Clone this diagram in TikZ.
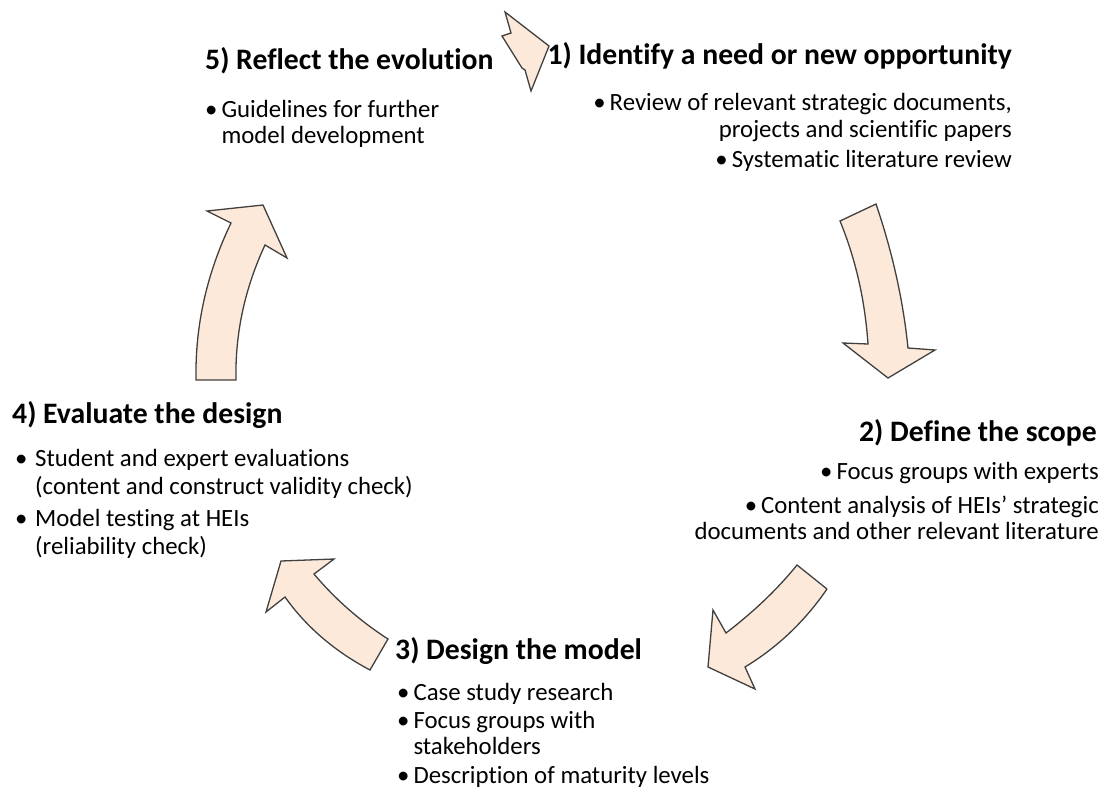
\documentclass[tikz,border=0pt]{standalone}
\usepackage{fontspec}
\setmainfont{Carlito}[Ligatures=CommonOff]
\definecolor{peach}{HTML}{FDE9D9}
\definecolor{edgegray}{HTML}{404040}
\newcommand{\dotlead}{\textbullet\hspace{4pt}}
\newcommand{\hangdot}{\makebox[20pt][l]{\textbullet}}
\newcommand{\hangskip}{\hspace*{20pt}}

\begin{document}
\begin{tikzpicture}[x=1pt,y=-1pt,
    stage/.style={font=\fontsize{29.7}{36}\selectfont\bfseries, inner sep=0pt},
    items/.style={font=\fontsize{24.8}{27}\selectfont, inner sep=0pt},
    bigarrow/.style={fill=peach, draw=edgegray, line width=1.3pt, line join=miter}]
\useasboundingbox (0,0) rectangle (1104,796);

    % stage titles
    \node[stage, anchor=mid east] (T1) at (1012,62) {1) Identify a need or new opportunity};
    \node[stage, anchor=mid east] (T2) at (1097,439) {2) Define the scope};
    \node[stage, anchor=mid west] (T3) at (395,657) {3) Design the model};
    \node[stage, anchor=mid west] (T4) at (12,421) {4) Evaluate the design};
    \node[stage, anchor=mid west] (T5) at (205,67) {5) Reflect the evolution};

    % bullet lists
    \node[items, align=right, anchor=north east] (L1) at (1012,93)
        {\dotlead Review of relevant strategic documents,\\
         projects and scientific papers\\[3pt]
         \dotlead Systematic literature review};
    \node[items, align=right, anchor=north east] (L2) at (1099,462)
        {\dotlead Focus groups with experts\\[7pt]
         \dotlead Content analysis of HEIs’ strategic\\[-1pt]
         documents and other relevant literature};
    \node[items, align=left, anchor=north west] (L3) at (397,683)
        {\dotlead Case study research\\[1pt]
         \dotlead Focus groups with\\[-1pt]
         \phantom{\dotlead}stakeholders\\[2pt]
         \dotlead Description of maturity levels};
    \node[items, align=left, anchor=north west] (L4) at (15,449)
        {\hangdot Student and expert evaluations\\[1pt]
         \hangskip(content and construct validity check)\\[5pt]
         \hangdot Model testing at HEIs\\[1pt]
         \hangskip(reliability check)};
    \node[items, align=left, anchor=north west] (L5) at (205,100)
        {\dotlead Guidelines for further\\[-1pt]
         \phantom{\dotlead}model development};

    % cycle arrows
    \draw[bigarrow] (505,12) -- (549,46) -- (531,91) -- (525,70) -- (522,68)
        -- (502,36) -- (511,33) -- cycle;
    \draw[bigarrow] (840,221) .. controls (856,260) and (865,301) .. (868,344)
        -- (843,343) -- (888,378) -- (935,350) -- (908,348)
        .. controls (903,299) and (892,251) .. (876,204) -- cycle;
    \draw[bigarrow] (827,589) -- (797,565) .. controls (776,591) and (752,613) .. (726,633)
        -- (713,610) -- (708,667) -- (755,689) -- (745,667)
        .. controls (778,647) and (805,621) .. (827,589);
    \draw[bigarrow] (388,639) .. controls (360,621) and (335,599) .. (314,574)
        -- (334,559) -- (281,561) -- (266,612) -- (285,597)
        .. controls (307,628) and (336,652) .. (370,670) -- cycle;
    \draw[bigarrow] (196,380) .. controls (195,325) and (207,273) .. (231,223)
        -- (207,211) -- (263,205) -- (287,258) -- (265,245)
        .. controls (245,288) and (235,333) .. (236,380) -- cycle;

\end{tikzpicture}
\end{document}
